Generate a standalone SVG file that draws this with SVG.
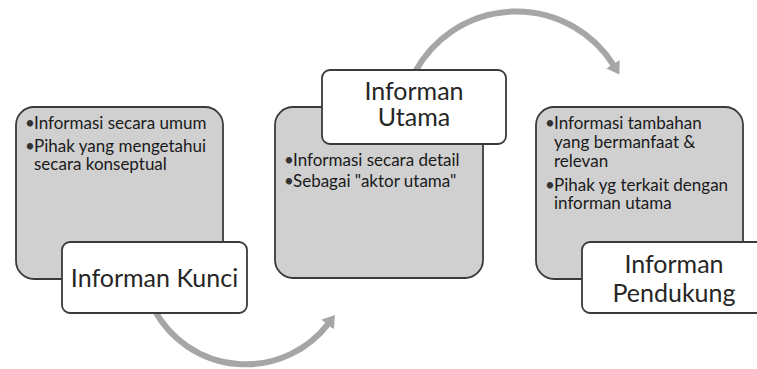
<svg xmlns="http://www.w3.org/2000/svg" width="757" height="369" viewBox="0 0 757 369">
<defs>
<style>
.gray{fill:#d0d0d0;stroke:#3a3a3a;stroke-width:1.8}
.white{fill:#ffffff;stroke:#3a3a3a;stroke-width:1.8}
.big{font-family:Lato,"Open Sans","Liberation Sans",sans-serif;font-size:25px;fill:#262626;text-anchor:middle}
.small{font-family:Lato,"Open Sans","Liberation Sans",sans-serif;font-size:17px;fill:#1a1a1a}
.dot{font-family:Lato,"Open Sans","Liberation Sans",sans-serif;font-size:17px;fill:#333333}
.arc{fill:none;stroke:#a6a6a6;stroke-width:6}
</style>
<marker id="ah" markerUnits="userSpaceOnUse" viewBox="0 0 12 16" refX="1" refY="8" markerWidth="12" markerHeight="16" orient="auto">
<path d="M0,0 L12,8 L0,16 z" fill="#a6a6a6"/>
</marker>
</defs>
<rect width="757" height="369" fill="#ffffff"/>
<g id="connectors">
<path class="arc" d="M415,72 A115,115 0 0 1 613.5,65.1" marker-end="url(#ah)"/>
<path class="arc" d="M155,311 A104,104 0 0 0 328.2,323.8" marker-end="url(#ah)"/>
</g>
<g id="node-kunci">
<rect class="gray" x="16" y="107" width="207" height="172" rx="18"/>
<text class="dot" x="25" y="129">•</text>
<text class="small" x="34" y="129">Informasi secara umum</text>
<text class="dot" x="25" y="152">•</text>
<text class="small" x="34" y="152">Pihak yang mengetahui</text>
<text class="small" x="34" y="170">secara konseptual</text>
<rect class="white" x="62" y="242" width="185" height="71" rx="8"/>
<text class="big" x="154.5" y="287">Informan Kunci</text>
</g>
<g id="node-utama">
<rect class="gray" x="275" y="107" width="208" height="171" rx="18"/>
<rect class="white" x="322" y="70" width="184" height="74" rx="8"/>
<text class="big" x="414" y="100">Informan</text>
<text class="big" x="414" y="126">Utama</text>
<text class="dot" x="284" y="166">•</text>
<text class="small" x="293" y="166">Informasi secara detail</text>
<text class="dot" x="284" y="187">•</text>
<text class="small" x="293" y="187">Sebagai "aktor utama"</text>
</g>
<g id="node-pendukung">
<rect class="gray" x="536" y="107" width="207" height="172" rx="18"/>
<text class="dot" x="545" y="129">•</text>
<text class="small" x="554" y="129">Informasi tambahan</text>
<text class="small" x="554" y="148">yang bermanfaat &amp;</text>
<text class="small" x="554" y="167">relevan</text>
<text class="dot" x="545" y="191">•</text>
<text class="small" x="554" y="191">Pihak yg terkait dengan</text>
<text class="small" x="554" y="209">informan utama</text>
<rect class="white" x="582" y="242" width="185" height="71" rx="8"/>
<text class="big" x="674" y="273">Informan</text>
<text class="big" x="674" y="302">Pendukung</text>
</g>
</svg>
